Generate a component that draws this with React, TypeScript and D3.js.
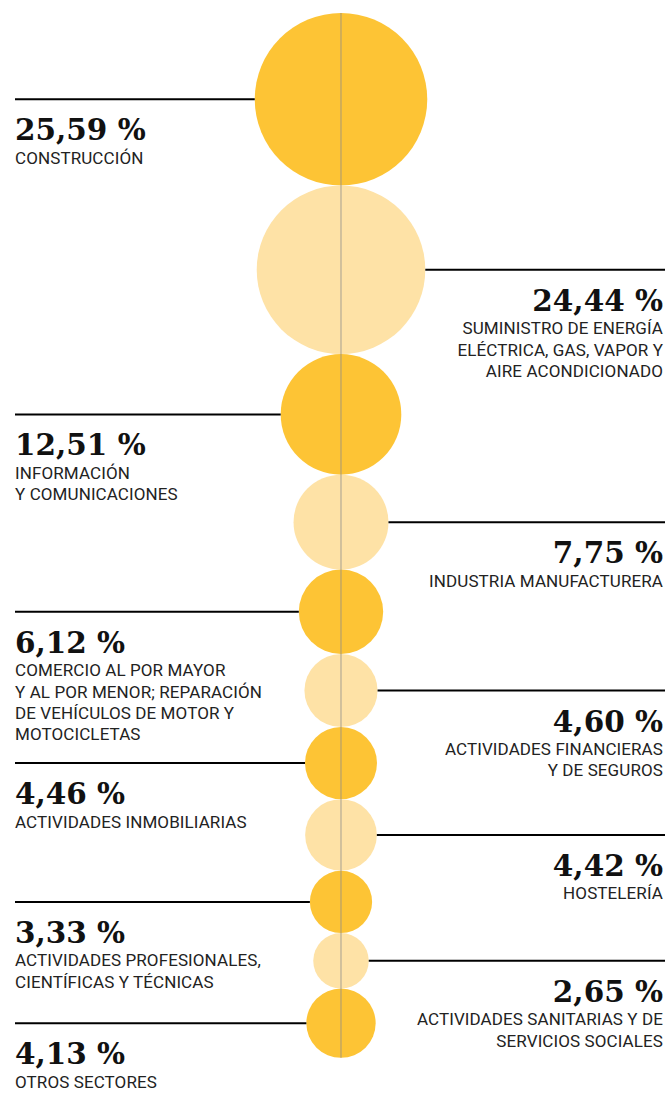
import React, { useEffect } from "react";
import * as d3 from "d3";

const categories: string[][] = [
  ["CONSTRUCCIÓN"],
  ["SUMINISTRO DE ENERGÍA", "ELÉCTRICA, GAS, VAPOR Y", "AIRE ACONDICIONADO"],
  ["INFORMACIÓN", "Y COMUNICACIONES"],
  ["INDUSTRIA MANUFACTURERA"],
  ["COMERCIO AL POR MAYOR", "Y AL POR MENOR; REPARACIÓN", "DE VEHÍCULOS DE MOTOR Y", "MOTOCICLETAS"],
  ["ACTIVIDADES FINANCIERAS", "Y DE SEGUROS"],
  ["ACTIVIDADES INMOBILIARIAS"],
  ["HOSTELERÍA"],
  ["ACTIVIDADES PROFESIONALES,", "CIENTÍFICAS Y TÉCNICAS"],
  ["ACTIVIDADES SANITARIAS Y DE", "SERVICIOS SOCIALES"],
  ["OTROS SECTORES"],
];

const values: number[] = [25.59, 24.44, 12.51, 7.75, 6.12, 4.6, 4.46, 4.42, 3.33, 2.65, 4.13];

const W = 665;
const H = 1093;
const CX = 341;
const TOP = 13;
const DARK = "#FDC435";
const LIGHT = "#FEE2A6";

const locale = d3.formatLocale({ decimal: ",", thousands: ".", grouping: [3], currency: ["", "€"] });
const fmt = locale.format(".2f");

export default function App() {
  useEffect(() => {
    document.body.style.margin = "0";
  }, []);

  const r = d3.scaleSqrt().domain([0, d3.max(values) as number]).range([0, 86.25]);

  let acc = TOP;
  const nodes = values.map((v, i) => {
    const rad = r(v);
    const cy = acc + rad;
    acc += rad * 2;
    return { v, i, rad, cy, left: i % 2 === 0, lines: categories[i] };
  });
  const bottom = acc;

  return (
    <svg width={W} height={H} style={{ position: "absolute", left: 0, top: 0, display: "block" }}>
      {nodes.map((n) => (
        <circle key={"c" + n.i} cx={CX} cy={n.cy} r={n.rad} fill={n.left ? DARK : LIGHT} />
      ))}
      <line x1={CX} x2={CX} y1={TOP} y2={bottom} stroke="#8a8a8a" strokeOpacity={0.55} strokeWidth={1.4} />
      {nodes.map((n) => {
        const x1 = n.left ? 15 : CX + n.rad;
        const x2 = n.left ? CX - n.rad : W;
        const tx = n.left ? 15 : 663;
        const anchor = n.left ? "start" : "end";
        return (
          <g key={"g" + n.i}>
            <line x1={x1} x2={x2} y1={n.cy} y2={n.cy} stroke="#000" strokeWidth={2} />
            <text
              x={tx}
              y={n.cy + 41}
              textAnchor={anchor}
              fontFamily="'DejaVu Serif', serif"
              fontWeight="bold"
              fontSize={29.5}
              fill="#111"
            >
              {fmt(n.v) + " %"}
            </text>
            {n.lines.map((l, j) => (
              <text
                key={j}
                x={tx}
                y={n.cy + 64.5 + j * 21.3}
                textAnchor={anchor}
                fontFamily="Roboto, sans-serif"
                fontSize={17}
                letterSpacing={0.1}
                fill="#222"
              >
                {l}
              </text>
            ))}
          </g>
        );
      })}
    </svg>
  );
}
